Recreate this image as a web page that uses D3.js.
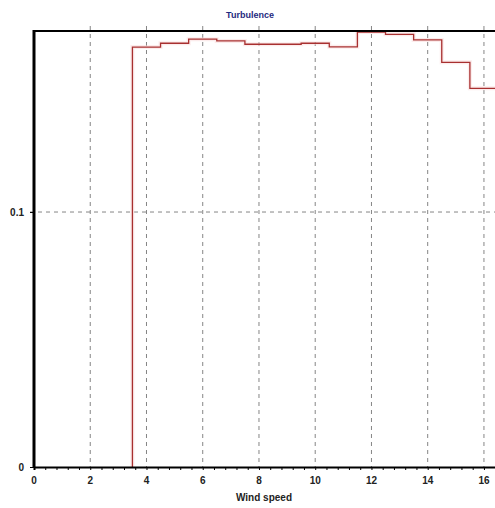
<!DOCTYPE html>
<html>
<head>
<meta charset="utf-8">
<script src="https://cdn.jsdelivr.net/npm/d3@7"></script>
<style>
  html, body { margin: 0; padding: 0; background: #ffffff; }
  svg { display: block; }
</style>
</head>
<body>
<svg id="chart" width="495" height="508"></svg>
<script>
// Data: wind speed bins (centres) and turbulence values
const windSpeed = [4, 5, 6, 7, 8, 9, 10, 11, 12, 13, 14, 15, 16];
const turbulence = [0.1647, 0.1662, 0.1678, 0.1671, 0.1658, 0.1658, 0.1662, 0.1648, 0.1706, 0.1697, 0.1675, 0.1587, 0.1485];
const xTicks = [0, 2, 4, 6, 8, 10, 12, 14, 16];
const yTicks = [0, 0.1];
const titleText = "Turbulence";
const xAxisTitle = "Wind speed";

(function () {
const svg = d3.select("#chart");
const mLeft = 34, mTop = 31, mBottom = 467, mRight = 498;

const x = d3.scaleLinear().domain([0, 16.5]).range([mLeft, mRight]);
const y = d3.scaleLinear().domain([0, 0.171]).range([mBottom, mTop]);

const font = "'Liberation Sans', Arial, sans-serif";

// Title
svg.append("text")
  .attr("x", 250).attr("y", 18)
  .attr("text-anchor", "middle")
  .attr("font-family", font).attr("font-size", 9).attr("font-weight", "bold")
  .attr("fill", "#1f2a80")
  .text(titleText);

// Grid lines (vertical)
svg.append("g").selectAll("line")
  .data(xTicks.filter(d => d > 0))
  .join("line")
  .attr("x1", d => x(d)).attr("x2", d => x(d))
  .attr("y1", mTop - 5).attr("y2", mBottom)
  .attr("stroke", "#777").attr("stroke-width", 0.9)
  .attr("stroke-dasharray", "4,4");

// Grid lines (horizontal)
svg.append("g").selectAll("line")
  .data(yTicks.filter(d => d > 0))
  .join("line")
  .attr("x1", mLeft - 4).attr("x2", 495)
  .attr("y1", d => y(d)).attr("y2", d => y(d))
  .attr("stroke", "#777").attr("stroke-width", 0.9)
  .attr("stroke-dasharray", "4,4");

// Step line data
const edges = windSpeed.map(d => d - 0.5);
const pts = [[edges[0], 0]];
windSpeed.forEach((d, i) => pts.push([edges[i], turbulence[i]]));
pts.push([windSpeed[windSpeed.length - 1] + 0.5, turbulence[turbulence.length - 1]]);

const line = d3.line()
  .x(d => x(d[0])).y(d => y(d[1]))
  .curve(d3.curveStepAfter);

svg.append("path")
  .attr("d", line(pts))
  .attr("fill", "none")
  .attr("stroke", "#fadada").attr("stroke-width", 4).attr("opacity", 0.5);
svg.append("path")
  .attr("d", line(pts))
  .attr("fill", "none")
  .attr("stroke", "#a83030").attr("stroke-width", 1.3);

// Top border
svg.append("line")
  .attr("x1", mLeft).attr("x2", 495)
  .attr("y1", mTop).attr("y2", mTop)
  .attr("stroke", "#000").attr("stroke-width", 2);

// X axis
const xAxis = d3.axisBottom(x)
  .tickValues(d3.range(0, 16.6, 0.4))
  .tickSize(3)
  .tickFormat("");
const gx = svg.append("g").attr("transform", `translate(0,${mBottom})`).call(xAxis);
gx.select(".domain").attr("stroke", "#000").attr("stroke-width", 2);
gx.selectAll(".tick line").attr("stroke", "#000").attr("stroke-width", 1);

svg.append("g").selectAll("text")
  .data(xTicks)
  .join("text")
  .attr("x", d => x(d)).attr("y", 484)
  .attr("text-anchor", "middle")
  .attr("font-family", font).attr("font-size", 10).attr("font-weight", "bold")
  .attr("fill", "#222")
  .text(d => d);

// Y axis
const yAxis = d3.axisLeft(y).tickValues(yTicks).tickSize(4).tickFormat(d => d === 0 ? "0" : d3.format(".1f")(d));
const gy = svg.append("g").attr("transform", `translate(${mLeft},0)`).call(yAxis);
gy.select(".domain").remove();
gy.selectAll(".tick line").attr("stroke", "#000");
gy.selectAll(".tick text")
  .attr("font-family", font).attr("font-size", 10).attr("font-weight", "bold")
  .attr("fill", "#222").attr("x", -10);

svg.append("line")
  .attr("x1", mLeft).attr("x2", mLeft)
  .attr("y1", mTop - 1).attr("y2", mBottom + 1)
  .attr("stroke", "#000").attr("stroke-width", 3);

// X axis title
svg.append("text")
  .attr("x", 264).attr("y", 501)
  .attr("text-anchor", "middle")
  .attr("font-family", font).attr("font-size", 10).attr("font-weight", "bold")
  .attr("fill", "#222")
  .text(xAxisTitle);
})();
</script>
</body>
</html>
